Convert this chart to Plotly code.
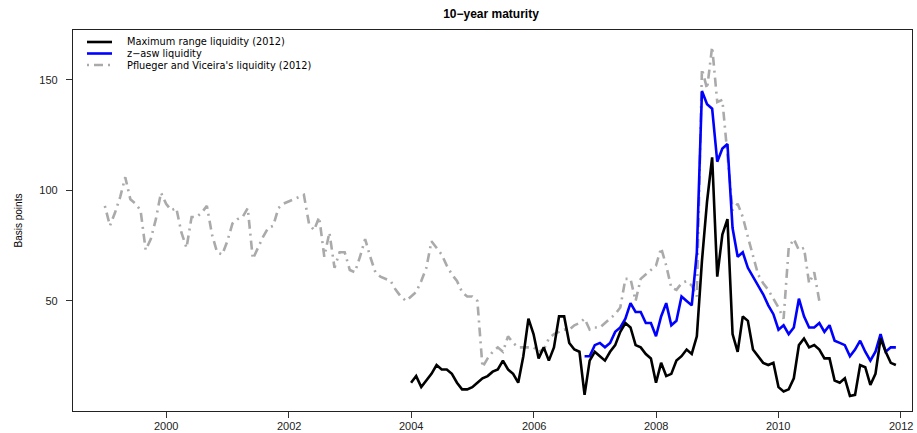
import numpy as np
import plotly.graph_objects as go

# Monthly series (basis points)
pv_start = 1999.0  # Pflueger and Viceira's liquidity, Jan 1999 - Sep 2010
pv_liquidity = [
    93, 84, 90, 97, 106, 96, 94, 91, 73, 78, 87, 99,      # 1999
    94, 91, 92, 81, 74, 88, 88, 90, 93, 80, 72, 71,       # 2000
    77, 85, 87, 88, 92, 69, 74, 79, 83, 84, 92, 94,       # 2001
    95, 96, 97, 98, 85, 82, 88, 70, 81, 65, 72, 72,       # 2002
    64, 63, 70, 78, 70, 63, 61, 60, 59, 55, 52, 50,       # 2003
    52, 54, 59, 65, 77, 74, 71, 66, 62, 59, 54, 52,       # 2004
    52, 50, 20, 24, 27, 29, 27, 34, 31, 29, 29, 29,       # 2005
    29, 27, 28, 33, 35, 36, 37, 37, 39, 40, 42, 37,       # 2006
    38, 38, 40, 42, 44, 47, 60, 60, 50, 60, 62, 64,       # 2007
    66, 74, 66, 56, 55, 58, 59, 57, 52, 155, 146, 165,    # 2008
    140, 141, 115, 91, 94, 88, 79, 70, 62, 58, 55, 51,    # 2009
    47, 42, 74, 78, 73, 74, 58, 63, 50,                   # 2010
]

mr_start = 2004.0  # maximum range liquidity, Jan 2004 - Dec 2011
max_range_liquidity = [
    13, 16, 11, 14, 17, 21, 19, 19, 17, 13, 10, 10,       # 2004
    11, 13, 15, 16, 18, 19, 23, 19, 17, 13, 25, 42,       # 2005
    35, 24, 29, 23, 29, 43, 43, 31, 28, 27, 7.5, 23,      # 2006
    27, 25, 23, 27, 30, 36, 40, 38, 30, 29, 26, 24,       # 2007
    13, 22, 16, 17, 23, 25, 28, 26, 34, 68, 95, 115,      # 2008
    61, 80, 87, 35, 27, 43, 41, 28, 25, 22, 21, 22,       # 2009
    11, 9, 10, 15, 30, 33, 29, 30, 28, 24, 24, 14,        # 2010
    13, 15, 7, 7.5, 21, 20, 12, 17, 33, 27, 22, 21,       # 2011
]

za_start = 2006.0 + 10 / 12  # z-asw liquidity, Nov 2006 - Dec 2011
zasw_liquidity = [
    25, 25,                                               # 2006
    30, 31, 29, 31, 36, 38, 42, 49, 45, 45, 40, 40,       # 2007
    34, 43, 49, 39, 41, 52, 50, 48, 72, 145, 139, 137,    # 2008
    113, 119, 121, 83, 70, 72, 65, 61, 57, 53, 48, 44,    # 2009
    37, 39, 35, 38, 51, 43, 38, 38, 40, 36, 39, 32,       # 2010
    31, 30, 25, 28, 32, 27, 23, 27, 35, 27, 29, 29,       # 2011
]

year_ticks = [2000, 2002, 2004, 2006, 2008, 2010, 2012]
value_ticks = [50, 100, 150]

series_names = [
    "Maximum range liquidity (2012)",
    "z\u2212asw liquidity",
    "Pflueger and Viceira's liquidity (2012)",
]


def monthly(start, values):
    return start + np.arange(len(values)) / 12.0


FONT = "Liberation Sans, Arial, Helvetica, sans-serif"
LEG_FONT = "DejaVu Sans, Liberation Sans, sans-serif"
BLACK = "#000000"
BLUE = "#0000ff"
GREY = "#aaaaaa"
GREY_DASH = "2px,5px,9px,5px"
LW = 2.6
AXIS_COL = "#222"

W, H = 917, 433
L, R, T, B = 73, 5, 30, 22
PW, PH = W - L - R, H - T - B


def px_x(px):
    return (px - L) / PW


def px_y(py):
    return 1 - (py - T) / PH


fig = go.Figure()
fig.add_trace(go.Scatter(
    x=monthly(pv_start, pv_liquidity), y=pv_liquidity, mode="lines",
    line=dict(color=GREY, width=LW, dash=GREY_DASH), name=series_names[2],
    showlegend=False))
fig.add_trace(go.Scatter(
    x=monthly(za_start, zasw_liquidity), y=zasw_liquidity, mode="lines",
    line=dict(color=BLUE, width=LW), name=series_names[1], showlegend=False))
fig.add_trace(go.Scatter(
    x=monthly(mr_start, max_range_liquidity), y=max_range_liquidity, mode="lines",
    line=dict(color=BLACK, width=LW), name=series_names[0], showlegend=False))

# Legend in the upper-left corner of the panel
LEG_ROW0, LEG_STEP = 42, 11.5
legend_styles = [
    dict(color=BLACK, width=LW),
    dict(color=BLUE, width=LW),
    dict(color=GREY, width=LW, dash=GREY_DASH),
]
shapes = []
annotations = []
for i, (name, style) in enumerate(zip(series_names, legend_styles)):
    yy = px_y(LEG_ROW0 + LEG_STEP * i)
    shapes.append(dict(type="line", xref="paper", yref="paper",
                       x0=px_x(87), x1=px_x(112), y0=yy, y1=yy, line=style))
    annotations.append(dict(text=name, xref="paper", yref="paper",
                            x=px_x(125), y=yy, xanchor="left", yanchor="middle",
                            showarrow=False,
                            font=dict(family=LEG_FONT, size=9.8, color="#000")))

# Year labels under the tick marks
for yr in year_ticks:
    annotations.append(dict(text=str(yr), xref="x", yref="paper", x=yr, y=0,
                            yshift=-(425.5 - (H - B)), xanchor="center",
                            yanchor="middle", showarrow=False,
                            font=dict(family=FONT, size=11, color="#222")))

annotations.append(dict(text="Basis points", xref="paper", yref="paper",
                        x=px_x(18), y=0.5, textangle=-90, xanchor="center",
                        yanchor="middle", showarrow=False,
                        font=dict(family=FONT, size=10, color="#000")))

fig.update_layout(
    width=W, height=H,
    margin=dict(l=L, r=R, t=T, b=B, pad=0),
    paper_bgcolor="white", plot_bgcolor="white",
    title=dict(text="<b>10\u2212year maturity</b>", x=px_x(491), xref="paper",
               xanchor="center", y=1 - 14 / H, yanchor="middle",
               font=dict(family=FONT, size=12, color="#000")),
    shapes=shapes, annotations=annotations,
    xaxis=dict(range=[1998.48, 2012.18], tickmode="array", tickvals=year_ticks,
               showticklabels=False, ticks="outside", ticklen=6,
               tickcolor="#333", tickwidth=1, showline=True, linecolor=AXIS_COL,
               linewidth=1.3, mirror=True, showgrid=False, zeroline=False),
    yaxis=dict(range=[0.2, 172.6], tickmode="array", tickvals=value_ticks,
               ticktext=[str(v) for v in value_ticks], ticks="outside", ticklen=6,
               tickcolor="#333", tickwidth=1, showline=True, linecolor=AXIS_COL,
               linewidth=1.3, mirror=True, showgrid=False, zeroline=False,
               ticklabelstandoff=6,
               tickfont=dict(family=FONT, size=11, color="#222")),
)

fig.write_html("out.html")
